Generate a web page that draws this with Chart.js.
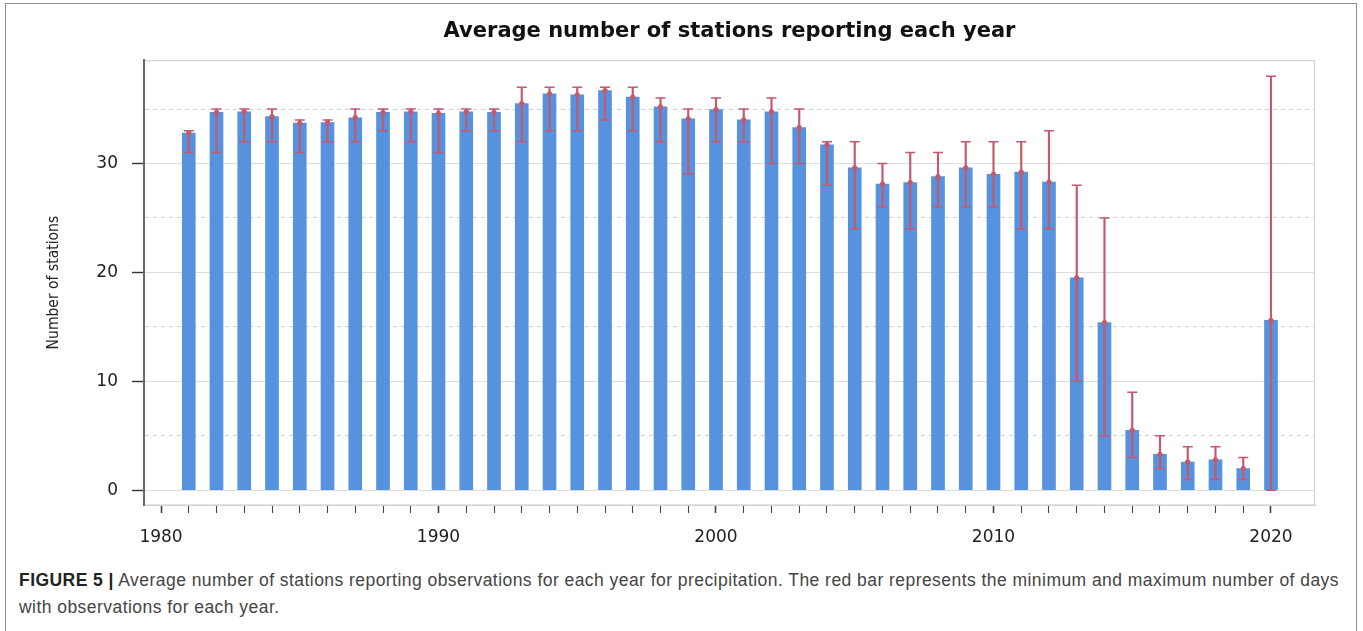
<!DOCTYPE html>
<html lang="en">
<head>
<meta charset="UTF-8">
<title>Average number of stations reporting each year</title>
<script src="https://cdn.jsdelivr.net/npm/chart.js@4.4.0/dist/chart.umd.min.js"></script>
<style>
    body {
        margin: 0;
        width: 1363px;
        height: 631px;
        overflow: hidden;
        position: relative;
        background: #fff;
        font-family: 'Liberation Sans', Arial, sans-serif;
    }

    /* journal figure frame */
    .frame {
        position: absolute;
        left: 5px;
        top: 3px;
        width: 1350px;
        height: 700px;
        border: 1.5px solid #8e8e8e;
    }

    .chart-box {
        position: absolute;
        left: 0;
        top: 0;
        width: 1363px;
        height: 560px;
    }

    .caption {
        position: absolute;
        left: 19px;
        top: 567px;
        font-size: 17.5px;
        letter-spacing: 0.45px;
        line-height: 27px;
        color: #444;
        white-space: nowrap;
    }

    .caption b {
        color: #222;
    }
</style>
</head>
<body>

<div class="frame"></div>

<div class="chart-box">
    <canvas id="stationsChart"></canvas>
</div>

<div class="caption">
    <b>FIGURE 5 |</b> Average number of stations reporting observations for each year for precipitation. The red bar represents the minimum and maximum number of days<br>
    with observations for each year.
</div>

<script>
// data
const years = [1981, 1982, 1983, 1984, 1985, 1986, 1987, 1988, 1989, 1990,
               1991, 1992, 1993, 1994, 1995, 1996, 1997, 1998, 1999, 2000,
               2001, 2002, 2003, 2004, 2005, 2006, 2007, 2008, 2009, 2010,
               2011, 2012, 2013, 2014, 2015, 2016, 2017, 2018, 2019, 2020];

const avgStations = [32.8, 34.7, 34.75, 34.3, 33.7, 33.75, 34.2, 34.7, 34.75, 34.6,
                     34.75, 34.7, 35.5, 36.4, 36.3, 36.7, 36.1, 35.2, 34.1, 34.95,
                     34.0, 34.75, 33.3, 31.7, 29.6, 28.1, 28.25, 28.8, 29.6, 29.0,
                     29.2, 28.3, 19.5, 15.4, 5.5, 3.3, 2.6, 2.8, 2.0, 15.6];

const minStations = [31, 31, 32, 32, 31, 32, 32, 33, 32, 31,
                     33, 33, 32, 33, 33, 34, 33, 32, 29, 32,
                     32, 30, 30, 28, 24, 26, 24, 26, 26, 26,
                     24, 24, 10, 5, 3, 2, 1, 1, 1, 0];

const maxStations = [33, 35, 35, 35, 34, 34, 35, 35, 35, 35,
                     35, 35, 37, 37, 37, 37, 37, 36, 35, 36,
                     35, 36, 35, 32, 32, 30, 31, 31, 32, 32,
                     32, 33, 28, 25, 9, 5, 4, 4, 3, 38];

const yMajorTicks = [0, 10, 20, 30];
const yMinorTicks = [5, 15, 25, 35];
const xTickYears = [];
for (let y = 1980; y <= 2020; y++) xTickYears.push(y);

const BLUE = '#5792de';
const RED = '#c4596c';

const tickFont = { family: "'DejaVu Sans', sans-serif", size: 17 };

// light grey box round the plot panel
const panelBox = {
    id: 'panelBox',
    beforeDraw(chart) {
        const { ctx, chartArea } = chart;
        ctx.save();
        ctx.strokeStyle = '#d2d2d2';
        ctx.lineWidth = 1.2;
        ctx.strokeRect(chartArea.left, chartArea.top + 0.5,
                       chartArea.right - chartArea.left - 0.5, chartArea.bottom - chartArea.top - 0.5);
        ctx.restore();
    }
};

const ctx = document.getElementById('stationsChart').getContext('2d');

const stationsChart = new Chart(ctx, {
    type: 'bar',
    data: {
        datasets: [
            {
                type: 'scatter',
                label: 'Mean',
                data: years.map((y, i) => ({ x: y, y: avgStations[i] })),
                pointStyle: 'circle',
                pointRadius: 2.6,
                backgroundColor: RED,
                borderWidth: 0,
                order: 1
            },
            {
                type: 'scatter',
                label: 'Max',
                data: years.map((y, i) => ({ x: y, y: maxStations[i] })),
                pointStyle: 'line',
                pointRadius: 5,
                borderColor: RED,
                borderWidth: 1.5,
                order: 2
            },
            {
                type: 'scatter',
                label: 'Min',
                data: years.map((y, i) => ({ x: y, y: minStations[i] })),
                pointStyle: 'line',
                pointRadius: 5,
                borderColor: RED,
                borderWidth: 1.5,
                order: 2
            },
            {
                type: 'bar',
                label: 'Range',
                data: years.map((y, i) => ({ x: y, y: [minStations[i], maxStations[i]] })),
                backgroundColor: RED,
                barThickness: 1.5,
                grouped: false,
                order: 3
            },
            {
                type: 'bar',
                label: 'Average number of stations',
                data: years.map((y, i) => ({ x: y, y: avgStations[i] })),
                backgroundColor: BLUE,
                barThickness: 13,
                grouped: false,
                order: 4
            }
        ]
    },
    options: {
        responsive: true,
        maintainAspectRatio: false,
        animation: false,
        layout: { padding: { top: 8, right: 48, left: 44, bottom: 0 } },
        plugins: {
            legend: { display: false },
            tooltip: { enabled: false },
            title: {
                display: true,
                fullSize: false,
                text: 'Average number of stations reporting each year',
                color: '#111',
                font: { family: "'DejaVu Sans', sans-serif", size: 21, weight: 'bold' },
                padding: { top: 11, bottom: 16 }
            }
        },
        scales: {
            x: {
                type: 'linear',
                offset: false,
                min: 1979.387,
                max: 2021.586,
                afterBuildTicks: s => { s.ticks = xTickYears.map(v => ({ value: v })); },
                afterFit: s => { s.height = 55; },
                ticks: {
                    autoSkip: false,
                    maxRotation: 0,
                    color: '#222',
                    font: tickFont,
                    padding: 14,
                    callback: v => (v % 10 === 0 ? String(v) : '')
                },
                grid: {
                    offset: false,
                    drawOnChartArea: false,
                    drawTicks: true,
                    tickLength: 8,
                    tickColor: '#444',
                    tickWidth: c => (c.tick && c.tick.value % 10 === 0 ? 1.6 : 1.1)
                },
                border: { display: true, color: '#d2d2d2', width: 1 }
            },
            y: {
                type: 'linear',
                min: -1.35,
                max: 39.48,
                afterBuildTicks: s => {
                    s.ticks = yMajorTicks.concat(yMinorTicks).sort((a, b) => a - b).map(v => ({ value: v }));
                },
                afterFit: s => { s.width = 100; },
                ticks: {
                    color: '#222',
                    font: tickFont,
                    padding: 14,
                    callback: v => (yMajorTicks.includes(v) ? String(v) : '')
                },
                grid: {
                    color: c => (c.tick && yMajorTicks.includes(c.tick.value) ? '#dedede' : '#cfcfcf'),
                    lineWidth: 1,
                    tickLength: 12,
                    tickColor: c => (c.tick && yMajorTicks.includes(c.tick.value) ? '#333' : 'rgba(0,0,0,0)'),
                    tickWidth: 1.4
                },
                border: {
                    display: true,
                    color: '#6a6a6a',
                    width: 2,
                    dash: c => (c.tick && yMinorTicks.includes(c.tick.value) ? [4, 4] : [])
                },
                title: {
                    display: true,
                    text: 'Number of stations',
                    color: '#222',
                    font: { family: "'Liberation Sans Narrow', 'DejaVu Sans Condensed', sans-serif", size: 15.5 },
                    padding: { top: 1, bottom: 0 }
                }
            }
        }
    },
    plugins: [panelBox]
});
</script>

</body>
</html>
